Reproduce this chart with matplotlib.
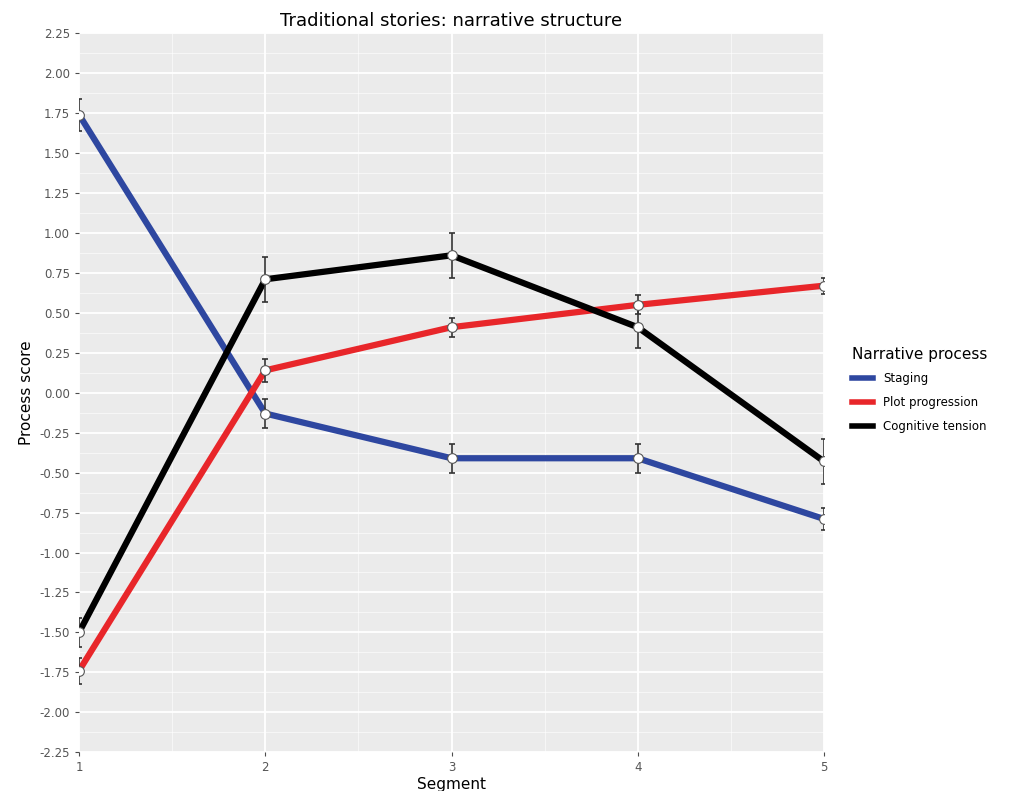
import numpy as np
import matplotlib.pyplot as plt
from matplotlib.lines import Line2D

plt.rcParams['font.family'] = ['DejaVu Sans']

segments = [1, 2, 3, 4, 5]
staging = [1.74, -0.13, -0.41, -0.41, -0.79]
staging_err = [0.10, 0.09, 0.09, 0.09, 0.07]
plot_prog = [-1.74, 0.14, 0.41, 0.55, 0.67]
plot_prog_err = [0.08, 0.07, 0.06, 0.06, 0.05]
cog_tension = [-1.50, 0.71, 0.86, 0.41, -0.43]
cog_tension_err = [0.09, 0.14, 0.14, 0.13, 0.14]

names = ['Staging', 'Plot progression', 'Cognitive tension']
colors = ['#2E47A0', '#E8262A', '#000000']
series = [staging, plot_prog, cog_tension]
errs = [staging_err, plot_prog_err, cog_tension_err]

fig = plt.figure(figsize=(10.2, 7.91), dpi=100)
ax = fig.add_axes([0.0775, 0.049, 0.7303, 0.909])
ax.set_facecolor('#EBEBEB')

# grid like ggplot
for y in np.arange(-2.25, 2.26, 0.125):
    major = abs((y / 0.25) - round(y / 0.25)) < 1e-6
    ax.axhline(y, color='white', lw=1.3 if major else 0.4, zorder=0)
for x in np.arange(1, 5.01, 0.5):
    major = abs(x - round(x)) < 1e-6
    ax.axvline(x, color='white', lw=1.3 if major else 0.4, zorder=0)

for vals, err, col, name in zip(series, errs, colors, names):
    ax.plot(segments, vals, color=col, lw=4.5, zorder=2, label=name,
            solid_capstyle='butt')
    ax.errorbar(segments, vals, yerr=err, fmt='none', ecolor='#333333',
                elinewidth=1.2, capsize=2.5, capthick=1.2, zorder=3)
    ax.plot(segments, vals, 'o', ms=7, mfc='white', mec='#555555',
            mew=0.8, zorder=4)

ax.set_xlim(1, 5)
ax.set_ylim(-2.25, 2.25)
ax.set_xticks(segments)
ax.set_yticks(np.arange(-2.25, 2.26, 0.25))
ax.set_yticklabels(['%.2f' % v for v in np.arange(-2.25, 2.26, 0.25)])
ax.tick_params(axis='both', labelsize=8.5, colors='#4D4D4D', length=3,
               width=0.8, labelcolor='#555555')
for s in ax.spines.values():
    s.set_visible(False)

ax.set_title('Traditional stories: narrative structure', fontsize=13, pad=5)
ax.set_xlabel('Segment', fontsize=11, labelpad=2)
ax.set_ylabel('Process score', fontsize=11, labelpad=4)

handles = [Line2D([0], [0], color=c, lw=4) for c in colors]
leg = fig.legend(handles, names, title='Narrative process', loc='upper left',
                 bbox_to_anchor=(0.825, 0.575), frameon=False, fontsize=8.5,
                 title_fontsize=11, handlelength=1.8, labelspacing=0.9)
leg._legend_box.align = 'left'

fig.savefig('out.png', dpi=100)
